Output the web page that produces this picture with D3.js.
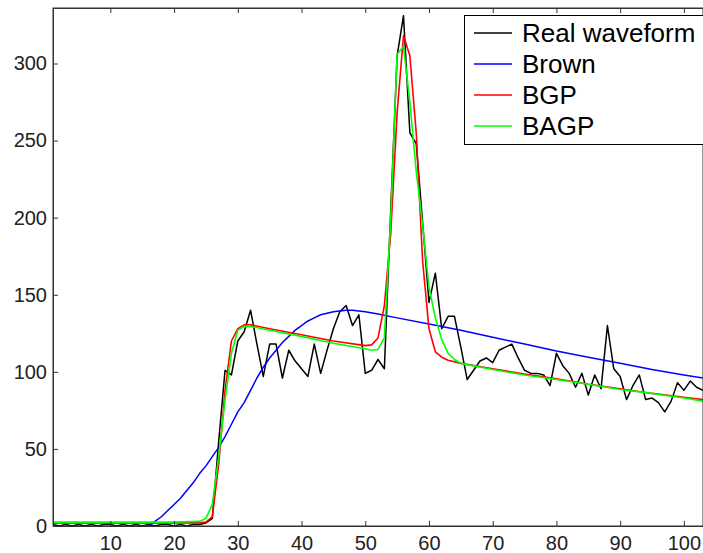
<!DOCTYPE html>
<html><head><meta charset="utf-8">
<script src="https://cdn.jsdelivr.net/npm/d3@7/dist/d3.min.js"></script>
<style>body{margin:0;background:#fff}svg{display:block}text{font-family:"Liberation Sans",Arial,sans-serif}</style>
</head><body><svg id="c" width="703" height="553"></svg>
<script>
// ---- data ----
const realX = d3.range(1, 104);
const realY = [1,0,1,0,1,0,1,0,1,1,0,1,0,1,0,1,0,1,1,0,1,0,1,1,2,5,55,101,98,120,
  126,140,118,97,118,118,96,114,107,102,97,118,99,114,128,139,143,130,137,99,
  101,108,102,205,305,331,255,248,197,145,164,128,136,136,116,95,101,107,109,106,
  114,116,118,109,101,99,99,98,91,112,104,99,90,99,85,98,89,130,102,97,
  82,91,98,82,83,80,74,81,93,88,94,90,88];

const brownX = [15,16,17,18,19,20,21,22,23,24,25,26,27,28,29,30,31,32,33,34,35,36,37,38,39,40,41,42,43,44,45,46,47,48,49,50,52,55,60,65,70,75,80,85,90,95,100,103];
const brownY = [0,0,3,6,10,14,18,23,28,34,39,45,51,58,66,74,80,88,96,103,109,114,119,123,127,130,133,135,137,138,139,139.5,140,140,139.5,139,137.5,135,131,127,122.5,118,113.5,109.5,105.5,101.5,98,96];

const bgpX = [1,10,20,24,25,26,27,28,29,30,31,32,35,40,45,50,51,52,53,54,55,56,57,58,59,60,61,62,63,65,70,75,80,85,90,95,100,103];
const bgpY = [2,2,2,2,2.5,6,40,88,120,128,130.5,130.5,128,124,120,117,117.5,122,143,190,268,318,305,255,172,128,113,109.5,107.5,105.5,102,98.5,95.5,92,89,86,83.5,82];

const bagpX = [1,10,20,24,25,26,27,28,29,30,31,32,35,40,45,50,51,52,53,54,55,56,57,58,59,60,61,62,63,64,65,70,75,80,85,90,95,100,103];
const bagpY = [2.5,2.5,2.5,3,5,14,45,82,112,127,129.5,129.5,127,123,118.5,115,114,114.5,122,200,306,311,275,230,195,155,135,121,112,108,105.5,101.5,98,95,92,88.5,86,83,81];

const xTicks = [10,20,30,40,50,60,70,80,90,100];
const yTicks = [0,50,100,150,200,250,300];
const legendLabels = ["Real waveform","Brown","BGP","BAGP"];
const colors = ["#000000","#0000ff","#ff0000","#00ff00"];

// ---- chart ----
const L=53, R=703, T=8, B=526;
const svg = d3.select("#c");
const x = d3.scaleLinear().domain([1,103]).range([L,R]);
const y = d3.scaleLinear().domain([0,336]).range([B,T]);

svg.append("defs").append("clipPath").attr("id","clip")
  .append("rect").attr("x",L).attr("y",T).attr("width",R-L).attr("height",B-T);

const series = [
  {xs: realX, ys: realY, c: colors[0], w: 1.5},
  {xs: brownX, ys: brownY, c: colors[1], w: 1.5},
  {xs: bgpX, ys: bgpY, c: colors[2], w: 1.6},
  {xs: bagpX, ys: bagpY, c: colors[3], w: 1.6}
];
const line = d3.line().x(d=>x(d[0])).y(d=>y(d[1]));
const g = svg.append("g").attr("clip-path","url(#clip)");
series.forEach(s=>{
  g.append("path").datum(s.xs.map((v,i)=>[v,s.ys[i]]))
    .attr("d",line).attr("fill","none").attr("stroke",s.c)
    .attr("stroke-width",s.w).attr("stroke-linejoin","round");
});

// axes
const axCol = "#333";
const xa = svg.append("g").attr("transform",`translate(0,${B})`)
  .call(d3.axisBottom(x).tickValues(xTicks).tickSize(-5).tickPadding(10).tickSizeOuter(0));
const xt = svg.append("g").attr("transform",`translate(0,${T})`)
  .call(d3.axisTop(x).tickValues(xTicks).tickSize(-5).tickFormat("").tickSizeOuter(0));
const ya = svg.append("g").attr("transform",`translate(${L},0)`)
  .call(d3.axisLeft(y).tickValues(yTicks).tickSize(-5).tickPadding(6).tickSizeOuter(0));
[xa,xt,ya].forEach(a=>{
  a.selectAll("path").attr("stroke",axCol);
  a.selectAll("line").attr("stroke",axCol);
  a.selectAll("text").attr("fill","#222").style("font-size","20px");
});
// frame
svg.append("rect").attr("x",L).attr("y",T).attr("width",R-L).attr("height",B-T)
  .attr("fill","none").attr("stroke",axCol).attr("stroke-width",1);

// legend
const lg = svg.append("g");
lg.append("rect").attr("x",464.5).attr("y",15.5).attr("width",260).attr("height",129)
  .attr("fill","#fff").attr("stroke","#000").attr("stroke-width",1);
legendLabels.forEach((t,i)=>{
  const yy = 33 + i*31;
  lg.append("line").attr("x1",474).attr("x2",512).attr("y1",yy).attr("y2",yy)
    .attr("stroke",colors[i]).attr("stroke-width",1.5);
  lg.append("text").attr("x",522).attr("y",yy).attr("dy","0.35em")
    .style("font-size","26px").attr("fill","#000").text(t);
});
</script></body></html>
